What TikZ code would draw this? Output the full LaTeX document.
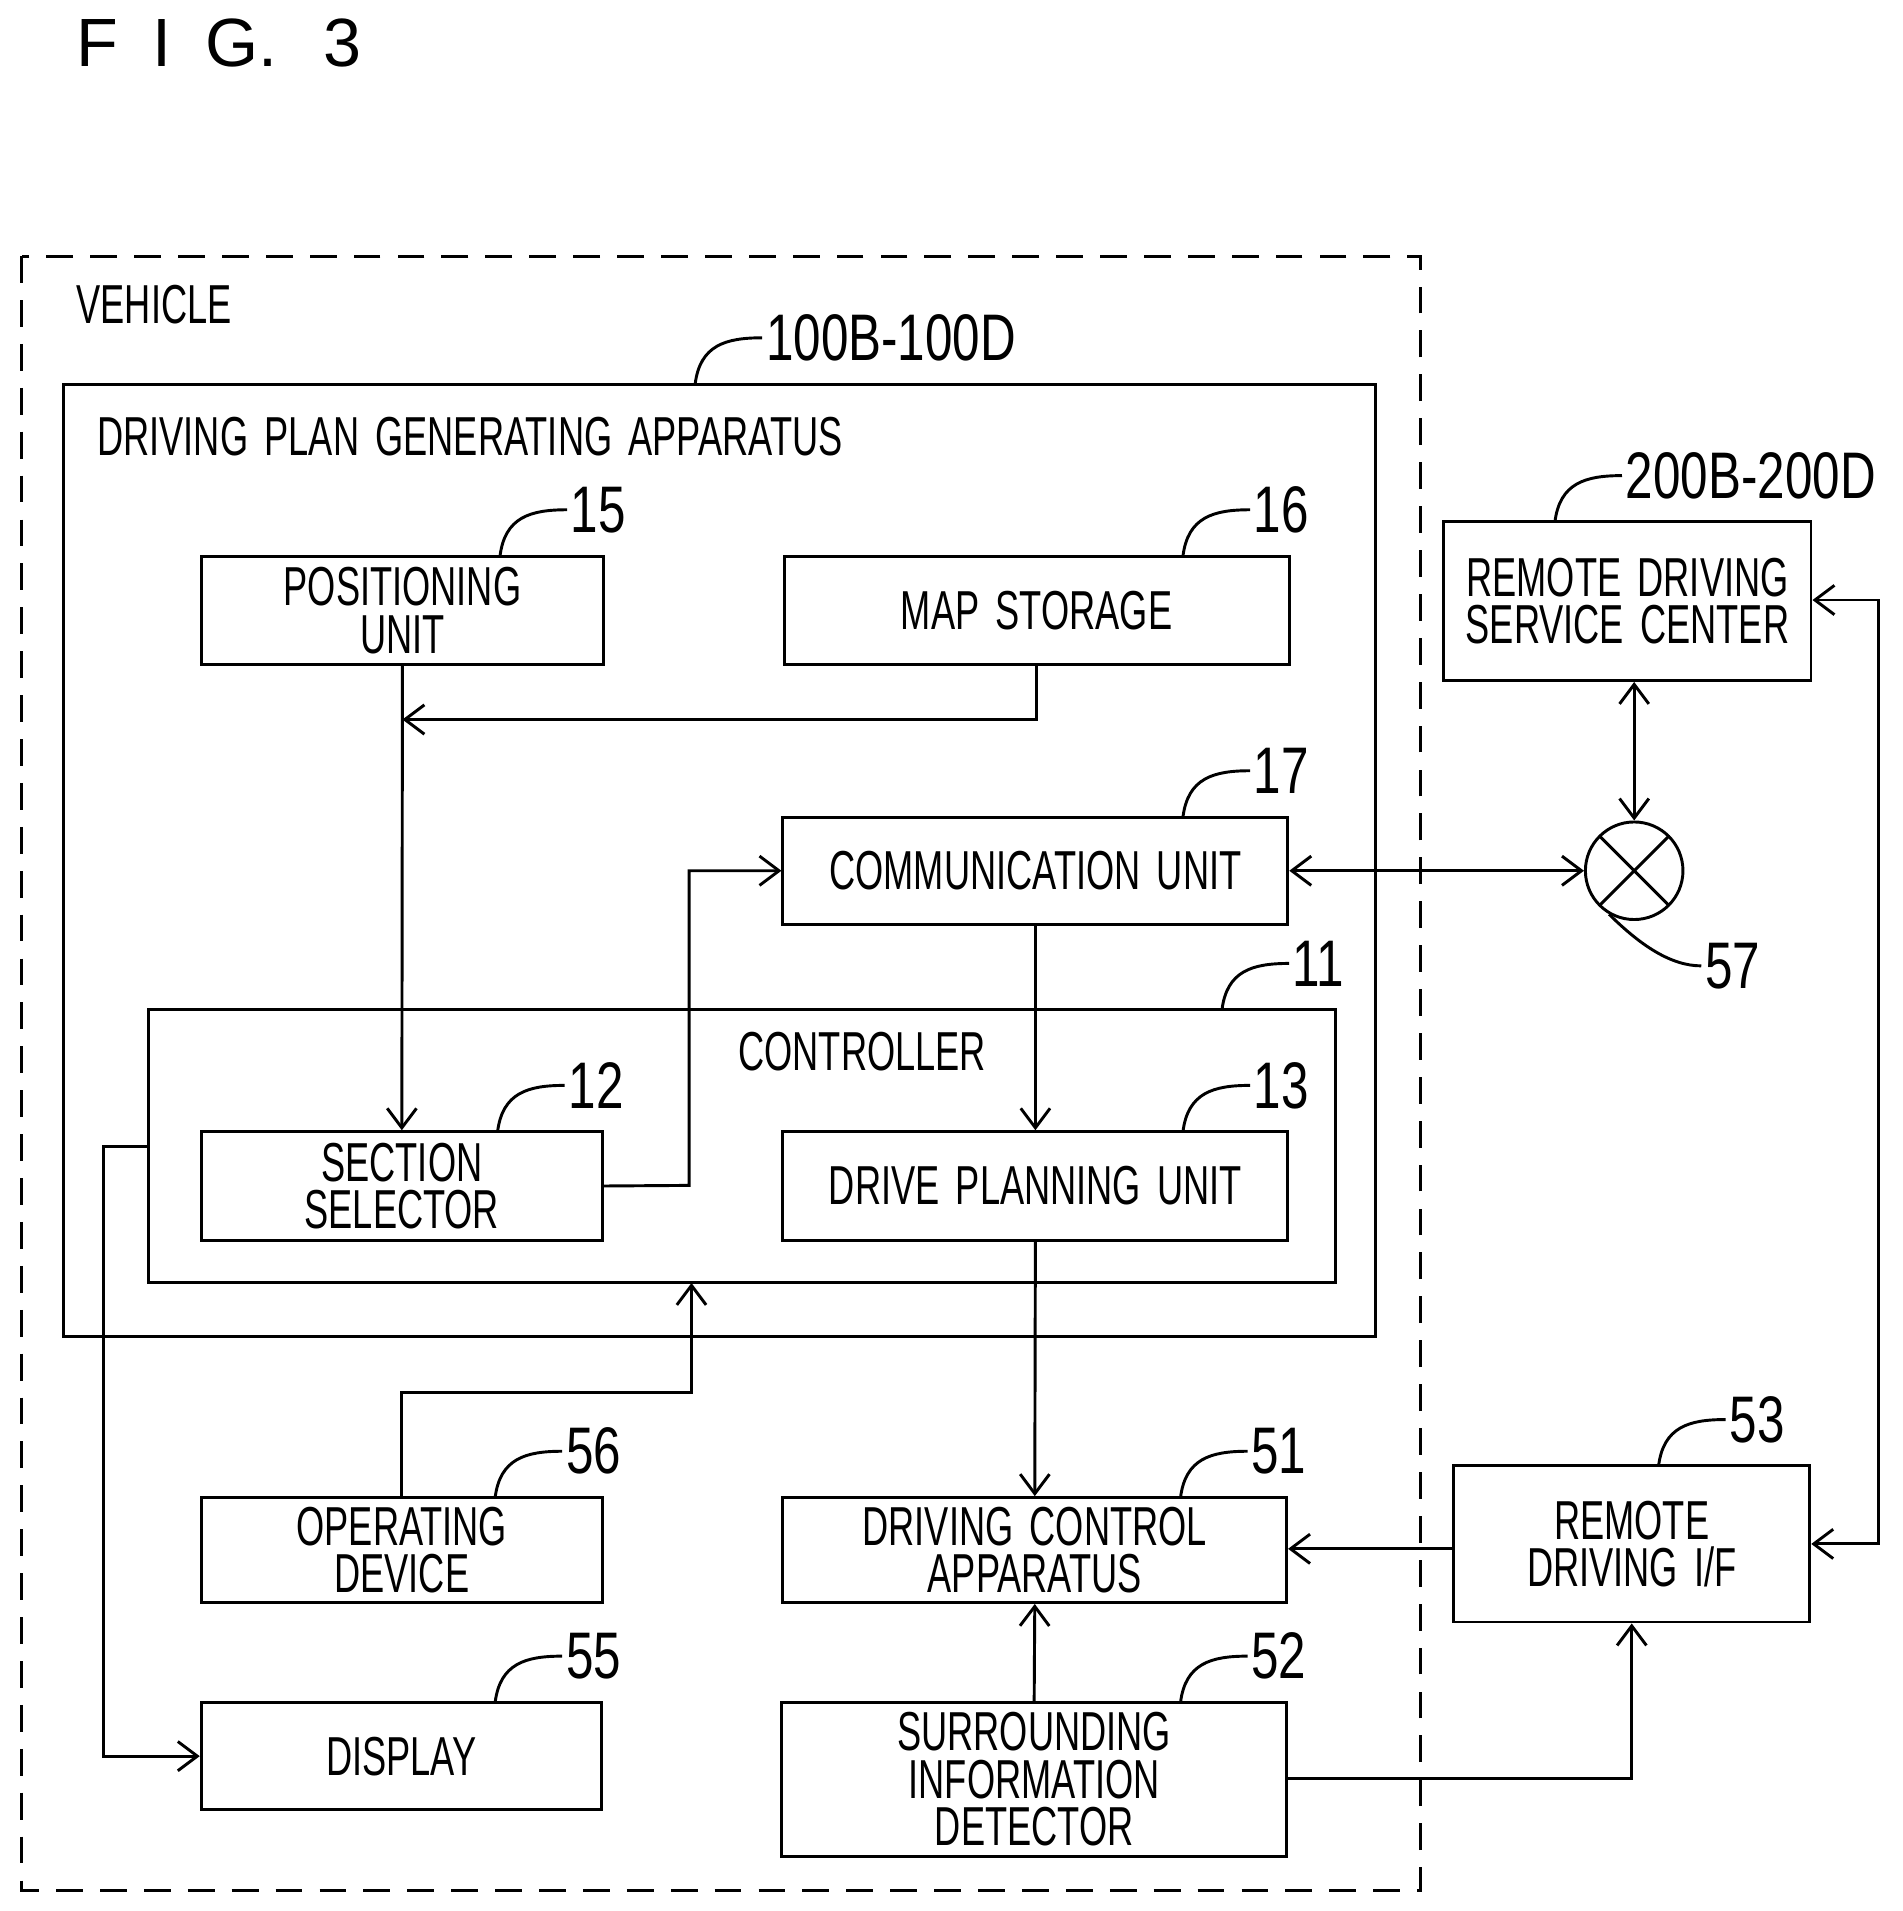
\documentclass[tikz,border=0pt]{standalone}
\usepackage{fontspec}
\setmainfont{Liberation Sans}
\usetikzlibrary{arrows.meta}
\newcommand\lbl[1]{\scalebox{0.66}[1]{\spaceskip=0.45em #1}}
\newcommand\rlbl[1]{\scalebox{0.75}[1]{\fontsize{27}{27}\selectfont #1}}
\newcommand\bx[6]{\node[box,minimum width={(#4-#2)*0.5pt},minimum height={(#5-#3)*0.5pt}] (#1) at ({(#2+#4)/2},{(#3+#5)/2}) {#6};}
\newcommand\lead[4]{\draw (#1,#2) .. controls ({#1+4},{#2-32}) and ({#1+25},{#2-38}) .. ({#1+55},{#2-38}) node[right,inner sep=1pt] (#4) {\rlbl{#3}};}
\begin{document}
\begin{tikzpicture}[x=0.5pt,y=-0.5pt,line width=1.2pt,font=\fontsize{22.5}{19.5}\selectfont,
 box/.style={draw,inner sep=0pt,align=center},
 ar/.style={-{Straight Barb[length=8pt,width=12pt]}},
 dar/.style={{Straight Barb[length=8pt,width=12pt]}-{Straight Barb[length=8pt,width=12pt]}}]
\useasboundingbox (0,0) rectangle (1560,1567);
\node[anchor=west] (fig) at (55,35) {\fontsize{28}{28}\selectfont F\,\,\,I\,\,\,G.\,\,\,\,3};
\draw[dash pattern=on 11pt off 7pt] (18,210) rectangle (1165,1550);
\node[anchor=west] (veh) at (55,250) {\lbl{VEHICLE}};
\draw (52,315) rectangle (1128,1096);
\node[anchor=west] (dpga) at (72,358) {\lbl{DRIVING PLAN GENERATING APPARATUS}};
\lead{570}{315}{100B-100D}{r100}
\bx{pos}{165}{456}{495}{545}{\lbl{POSITIONING}\\\lbl{UNIT}}
\lead{410}{456}{15}{r15}
\bx{map}{643}{456}{1057}{545}{\lbl{MAP STORAGE}}
\lead{970}{456}{16}{r16}
\bx{com}{642}{670}{1056}{758}{\lbl{COMMUNICATION UNIT}}
\lead{970}{670}{17}{r17}
\draw (122,828) rectangle (1095,1052);
\node (ctl) at (707,862) {\lbl{CONTROLLER}};
\lead{1002}{828}{11}{r11}
\bx{sec}{165}{928}{494}{1017}{\lbl{SECTION}\\\lbl{SELECTOR}}
\lead{408}{928}{12}{r12}
\bx{dpu}{642}{928}{1056}{1017}{\lbl{DRIVE PLANNING UNIT}}
\lead{970}{928}{13}{r13}
\bx{dca}{642}{1228}{1055}{1314}{\lbl{DRIVING CONTROL}\\\lbl{APPARATUS}}
\lead{968}{1228}{51}{r51}
\bx{op}{165}{1228}{494}{1314}{\lbl{OPERATING}\\\lbl{DEVICE}}
\lead{406}{1228}{56}{r56}
\bx{disp}{165}{1396}{493}{1484}{\lbl{DISPLAY}}
\lead{406}{1396}{55}{r55}
\bx{sid}{641}{1396}{1055}{1522}{\lbl{SURROUNDING}\\\lbl{INFORMATION}\\\lbl{DETECTOR}}
\lead{968}{1396}{52}{r52}
\bx{rif}{1192}{1202}{1484}{1330}{\lbl{REMOTE}\\\lbl{DRIVING I/F}}
\lead{1360}{1202}{53}{r53}
\bx{rdsc}{1184}{428}{1485}{558}{\lbl{REMOTE DRIVING}\\\lbl{SERVICE CENTER}}
\lead{1275}{428}{200B-200D}{r200}
\node[draw,circle,minimum size=40pt,inner sep=0pt] (net) at (1340,714) {};
\draw (net.center) +(-28,-28) -- +(28,28) +(-28,28) -- +(28,-28);
\draw (net.-120) .. controls (1345,775) and (1370,792) .. (1395,792) node[right,inner sep=1pt] (r57) {\rlbl{57}};
% connectors
\draw[ar] (map.south) |- (330,590);
\draw[ar] (pos.south) -- (sec.north);
\draw[ar] (sec.east) -- (565,972) |- (com.west);
\draw[ar] (com.south) -- (dpu.north);
\draw[ar] (dpu.south) -- (dca.north);
\draw[ar] (op.north) |- (567,1142) -- (567,1052);
\draw[ar] (122,940) -- (85,940) |- (disp.west);
\draw[ar] (sid.north) -- (dca.south);
\draw[ar] (sid.east |- 0,1458) -| (rif.south);
\draw[ar] (rif.west |- 0,1270) -- (dca.east |- 0,1270);
\draw[dar] (com.east) -- (net.west);
\draw[dar] (rdsc.south -| net) -- (net.north);
\draw[dar] (rdsc.east |- 0,492) -- (1540,492) |- (rif.east |- 0,1266);
\end{tikzpicture}
\end{document}
